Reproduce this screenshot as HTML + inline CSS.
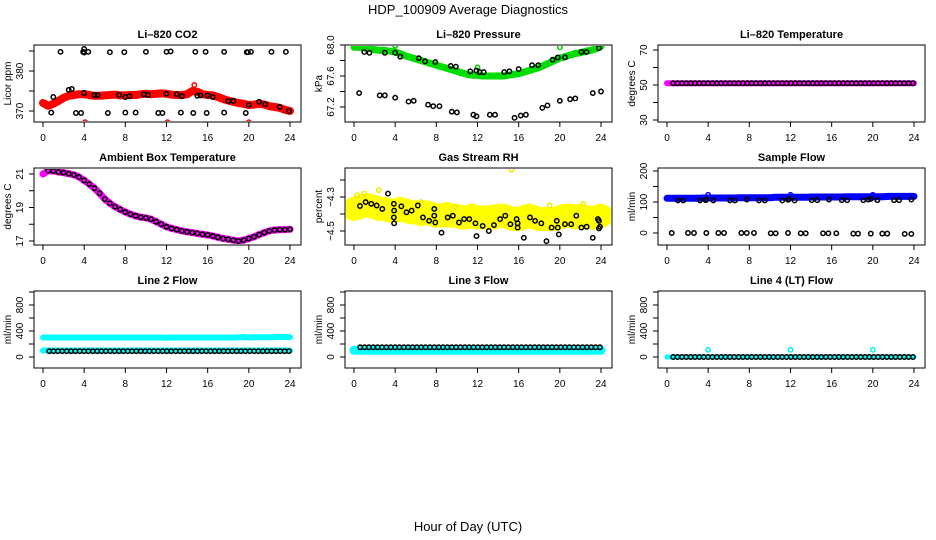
<!DOCTYPE html>
<html><head><meta charset="utf-8"><style>
html,body{margin:0;padding:0;background:#fff}
svg{display:block;font-family:"Liberation Sans",sans-serif}
</style></head><body>
<svg id="chart" width="936" height="540" viewBox="0 0 936 540" xmlns="http://www.w3.org/2000/svg">
<text x="468" y="14" font-size="13" text-anchor="middle">HDP_100909  Average Diagnostics</text>
<text x="468" y="531" font-size="13" text-anchor="middle">Hour of Day (UTC)</text>
</svg>
<script>
const xTicks = [0,4,8,12,16,20,24];
const halfHours = [0,0.5,1,1.5,2,2.5,3,3.5,4,4.5,5,5.5,6,6.5,7,7.5,8,8.5,9,9.5,10,10.5,11,11.5,12,12.5,13,13.5,14,14.5,15,15.5,16,16.5,17,17.5,18,18.5,19,19.5,20,20.5,21,21.5,22,22.5,23,23.5,24];
// CO2
const co2Band = [372,371.3,371.8,372.5,373.3,373.8,374,374.2,374.2,374,373.8,373.8,373.9,374,374.1,373.9,373.9,374,374,374.2,374.3,374.2,374.3,374.4,374.3,374.1,374,374,374.2,375,374.8,374.2,374,373.9,373.5,373,372.6,372.3,372,371.8,371.5,371.6,371.8,371.6,371.2,371,370.8,370.3,370];
const co2BlackT = [1.7,3.9,4.0,4.0,4.4,6.5,7.9,10.0,12.0,12.4,14.8,15.8,17.6,19.8,19.9,20.2,22.2,23.6,1.0,2.5,2.8,4.0,5.0,5.3,7.4,8.0,8.4,9.8,10.2,12.0,13.0,13.5,15.0,15.3,16.0,16.5,18.0,18.5,20.0,21.0,21.6,23.0,23.9,0.8,3.2,3.7,6.3,8.0,9.0,11.2,11.6,13.4,14.6,15.9,17.6,19.7];
const co2BlackV = [384.8,384.8,385.5,384.6,384.8,384.7,384.7,384.8,384.8,384.9,384.8,384.8,384.8,384.7,384.7,384.8,384.8,384.8,373.5,375.3,375.5,374.5,374,374,374,373.5,373.7,374.2,374,374.3,374.2,373.7,373.8,373.9,373.9,373.5,372.5,372.5,371.5,372.3,371.7,371,370,369.6,369.5,369.5,369.5,369.6,369.6,369.5,369.5,369.6,369.5,369.5,369.6,369.5];
const co2RedT = [4.1,12.1,20.0,14.7];
const co2RedV = [367.2,367.2,367.2,376.5];
// Pressure
const presBand = [67.97,67.97,67.96,67.95,67.94,67.93,67.93,67.92,67.91,67.89,67.86,67.84,67.82,67.80,67.78,67.76,67.74,67.72,67.70,67.68,67.66,67.64,67.62,67.61,67.61,67.60,67.60,67.60,67.60,67.60,67.61,67.62,67.63,67.65,67.67,67.69,67.71,67.74,67.77,67.80,67.83,67.85,67.87,67.89,67.90,67.92,67.93,67.95,67.98];
const presBlackT = [1.0,1.5,3,4,4.5,6.3,6.9,7.9,9.4,9.9,11.3,11.9,12.2,12.6,14.6,15.1,16,17.3,17.9,19.3,19.8,20.5,22.1,22.6,23.8,0.5,2.5,3,4,5.3,5.8,7.2,7.7,8.3,9.5,10,11.6,11.9,13.2,13.7,15.6,16.2,16.7,18.3,18.8,20,21,21.5,23.2,24];
const presBlackV = [67.91,67.90,67.90,67.90,67.85,67.83,67.79,67.78,67.73,67.72,67.66,67.67,67.65,67.65,67.65,67.66,67.69,67.74,67.74,67.81,67.84,67.84,67.91,67.91,67.96,67.38,67.35,67.35,67.32,67.27,67.28,67.23,67.21,67.21,67.14,67.13,67.1,67.08,67.1,67.1,67.06,67.09,67.1,67.19,67.22,67.28,67.3,67.31,67.38,67.4];
const presGreenT = [4.0,12.0,20.0];
const presGreenV = [67.99,67.71,67.97];
// Li-820 temperature
const tempBand = [51,51,51,51,51,51,51,51,51,51,51,51,51,51,51,51,51,51,51,51,51,51,51,51,51,51,51,51,51,51,51,51,51,51,51,51,51,51,51,51,51,51,51,51,51,51,51,51,51];
const tempBlack = [51,51,51,51,51,51,51,51,51,51,51,51,51,51,51,51,51,51,51,51,51,51,51,51,51,51,51,51,51,51,51,51,51,51,51,51,51,51,51,51,51,51,51,51,51,51,51,51,51,51,51,51,51,51,51,51];
// Ambient box temperature
const ambBand = [21.0,21.2,21.18,21.12,21.08,21.02,20.95,20.82,20.62,20.4,20.15,19.85,19.5,19.25,19.05,18.88,18.73,18.6,18.5,18.42,18.38,18.3,18.15,18.0,17.85,17.75,17.68,17.6,17.55,17.5,17.45,17.4,17.36,17.3,17.22,17.15,17.1,17.05,17.0,17.05,17.15,17.25,17.38,17.5,17.6,17.65,17.68,17.68,17.7];
// Gas stream RH
const rhBand = [-4.37,-4.36,-4.35,-4.35,-4.36,-4.37,-4.37,-4.38,-4.38,-4.37,-4.38,-4.39,-4.39,-4.40,-4.39,-4.40,-4.41,-4.41,-4.40,-4.41,-4.41,-4.42,-4.42,-4.41,-4.42,-4.42,-4.42,-4.42,-4.41,-4.41,-4.42,-4.43,-4.43,-4.42,-4.41,-4.42,-4.43,-4.43,-4.43,-4.43,-4.42,-4.41,-4.41,-4.42,-4.41,-4.42,-4.42,-4.42,-4.41];
const rhYellowT = [15.3,2.4,0.3,1.0,6.5,19.0,22.3,9.8];
const rhYellowV = [-4.14,-4.26,-4.29,-4.28,-4.33,-4.35,-4.34,-4.36];
const rhBlackT = [0.58,1.13,1.68,2.2,2.75,3.3,3.87,3.87,3.9,3.9,4.6,5.1,5.6,6.2,6.7,7.3,7.8,7.8,7.9,8.5,9.1,9.6,10.2,10.7,11.2,11.8,11.9,12.5,13.1,13.6,14.2,14.7,15.2,15.8,15.9,15.9,16.5,17.1,17.6,18.2,18.7,19.2,19.7,19.8,19.9,20.5,21.1,21.6,22.1,22.6,23.2,23.7,23.8,23.8,23.9];
const rhBlackV = [-4.353,-4.33,-4.34,-4.35,-4.37,-4.28,-4.34,-4.42,-4.455,-4.38,-4.355,-4.39,-4.38,-4.35,-4.42,-4.44,-4.37,-4.41,-4.45,-4.51,-4.42,-4.41,-4.45,-4.43,-4.43,-4.455,-4.53,-4.47,-4.50,-4.465,-4.43,-4.41,-4.46,-4.43,-4.455,-4.48,-4.54,-4.42,-4.44,-4.455,-4.56,-4.48,-4.44,-4.48,-4.52,-4.46,-4.46,-4.41,-4.48,-4.475,-4.54,-4.43,-4.44,-4.485,-4.475];
// Sample flow
const sfBand = [112,112,112,112,112,112,112,113,113,113,113,113,113,113,114,114,114,114,114,114,114,115,115,115,115,115,115,115,116,116,116,116,116,116,116,117,117,117,117,117,117,117,117,118,118,118,118,118,118];
const sfBlueT = [4.0,12.0,20.0];
const sfBlueV = [123,123,123];
const sfBlackT = [1.07,1.58,3.2,3.76,3.82,4.5,6.12,6.6,7.75,8.94,9.5,11.2,11.76,11.86,12.4,14.06,14.6,15.74,16.98,17.5,19.08,19.56,19.8,20.44,22.06,22.55,23.74,0.46,2.04,2.62,3.82,4.99,5.54,7.22,7.75,8.45,10.08,10.56,11.76,12.99,13.48,15.16,15.68,16.45,18.1,18.56,19.8,20.92,21.4,23.1,23.74];
const sfBlackV = [105,105,105,106,108,105,105,105,108,105,105,105,107,109,105,106,106,108,106,106,106,108,110,106,106,106,108,0,0,0,0,0,0,0,0,0,-1,-1,0,-1,-1,-1,-1,-1,-2,-2,-2,-2,-2,-3,-3];
// Line flows
const l2BandHigh = [300,300,300,300,300,300,300,300,300,300,300,300,300,300,300,300,300,300,300,300,300,300,300,300,295,300,300,300,300,300,300,300,300,300,300,300,300,300,305,308,300,305,305,305,305,305,308,308,305];
const l2BandLow = [100,100,100,100,100,100,100,100,100,100,100,100,100,100,100,100,100,100,100,100,100,100,100,100,100,100,100,100,100,100,100,100,100,100,100,100,100,100,100,100,100,100,100,100,100,100,100,100,100];
const l2Black = [90,90,90,90,90,90,90,90,90,90,90,90,90,90,90,90,90,90,90,90,90,90,90,90,90,90,90,90,90,90,90,90,90,90,90,90,90,90,90,90,90,90,90,90,90,90,90,90,90,90,90,90,90,90,90,90];
const l3Band = [105,105,105,105,105,105,105,105,105,105,105,105,105,105,105,105,105,105,105,105,105,105,105,105,105,105,105,105,105,105,105,105,105,105,105,105,105,105,105,105,105,105,105,105,105,105,105,105,105];
const l3Black = [150,150,150,150,150,150,150,150,150,150,150,150,150,150,150,150,150,150,150,150,150,150,150,150,150,150,150,150,150,150,150,150,150,150,150,150,150,150,150,150,150,150,150,150,150,150,150,150,150,150,150,150,150,150,150,150];
const l4Band = [0,0,0,0,0,0,0,0,0,0,0,0,0,0,0,0,0,0,0,0,0,0,0,0,0,0,0,0,0,0,0,0,0,0,0,0,0,0,0,0,0,0,0,0,0,0,0,0,0];
const l4Black = [0,0,0,0,0,0,0,0,0,0,0,0,0,0,0,0,0,0,0,0,0,0,0,0,0,0,0,0,0,0,0,0,0,0,0,0,0,0,0,0,0,0,0,0,0,0,0,0,0,0,0,0,0,0,0,0];
const l4CyanT = [4.0,12.0,20.0];
const l4CyanV = [110,110,110];

const NS = "http://www.w3.org/2000/svg";
const svg = document.getElementById('chart');
function mk(tag, attrs, parent){
  const e = document.createElementNS(NS, tag);
  for (const k in attrs) e.setAttribute(k, attrs[k]);
  (parent||svg).appendChild(e);
  return e;
}
const colLeft = [34,345,658], rowTop = [45,168,291], W = 267, H = 77;

function panel(o){
  const L = colLeft[o.col], T = rowTop[o.row], B = T + H;
  const g = mk('g', {});
  
  
  const xs = h => L + 9 + h * 247 / 24;
  const ys = v => o.p0 + (v - o.v0) * (o.p1 - o.p0) / (o.v1 - o.v0);
  const box = mk('rect', {x:L, y:T, width:W, height:H, fill:'none', stroke:'#000', 'stroke-width':1}, g);
  
  
  const t = mk('text', {x:L + W/2, y:T - 7, 'font-size':11, 'font-weight':'bold', 'text-anchor':'middle'}, g);
  t.textContent = o.title;
  
  
  const yl = mk('text', {transform:`translate(${L-23},${T+H/2}) rotate(-90)`, 'font-size':10, 'text-anchor':'middle'}, g);
  yl.textContent = o.ylab;
  
  
  o.yticks.forEach((v, i) => {
    const y = ys(v);
    mk('line', {x1:L-5, x2:L, y1:y, y2:y, stroke:'#000'}, g);
    if (o.ylabels[i] !== '') {
      const tl = mk('text', {transform:`translate(${L-11},${y}) rotate(-90)`, 'font-size':10, 'text-anchor':'middle'}, g);
      tl.textContent = o.ylabels[i];
      
      
    }
  });
  xTicks.forEach(h => {
    const x = xs(h);
    mk('line', {x1:x, x2:x, y1:B, y2:B+5, stroke:'#000'}, g);
    const tl = mk('text', {x:x, y:B+19, 'font-size':10, 'text-anchor':'middle'}, g);
    tl.textContent = h;
    
    
  });
  const clipId = 'c' + o.name;
  const cp = mk('clipPath', {id:clipId}, g);
  mk('rect', {x:L+1, y:T+1, width:W-2, height:H-2}, cp);
  const pg = mk('g', {'clip-path':`url(#${clipId})`}, g);
  return {xs, ys, g:pg};
}
function band(p, vals, color, width, name){
  const pts = vals.map((v, i) => p.xs(halfHours[i]).toFixed(1) + ',' + p.ys(v).toFixed(1)).join(' ');
  const pl = mk('polyline', {points:pts, fill:'none', stroke:color, 'stroke-width':width, 'stroke-linejoin':'round', 'stroke-linecap':'round'}, p.g);
  
  
}
function pts(p, T, V, color, name){
  T.forEach((h, i) => {
    const c = mk('circle', {cx:p.xs(h), cy:p.ys(V[i]), r:2.2, fill:'none', stroke:color, 'stroke-width':1.5}, p.g);
    
    
  });
}
function evenTimes(n){ const a=[]; for(let i=0;i<n;i++) a.push(0.6 + i*23.3/(n-1)); return a; }

let p;
p = panel({name:'co2', col:0, row:0, title:'Li\u2013820 CO2', ylab:'Licor ppm', v0:370, p0:111, v1:380, p1:71, yticks:[370,375,380,385], ylabels:['370','','380','']});
band(p, co2Band, '#ff0000', 8, 'co2-red-series');
pts(p, co2RedT, co2RedV, '#ff0000', 'co2-red-point');
pts(p, co2BlackT, co2BlackV, '#000', 'co2-black-point');

p = panel({name:'pressure', col:1, row:0, title:'Li\u2013820 Pressure', ylab:'kPa', v0:68.0, p0:45, v1:67.2, p1:107, yticks:[67.2,67.4,67.6,67.8,68.0], ylabels:['67.2','','67.6','','68.0']});
band(p, presBand, '#00dd00', 7, 'pressure-green-series');
pts(p, presGreenT, presGreenV, '#00cc00', 'pressure-green-point');
pts(p, presBlackT, presBlackV, '#000', 'pressure-black-point');

p = panel({name:'li820-temp', col:2, row:0, title:'Li\u2013820 Temperature', ylab:'degrees C', v0:70, p0:50, v1:30, p1:120, yticks:[30,40,50,60,70], ylabels:['30','','50','','70']});
band(p, tempBand, '#ff00ff', 6, 'li820-temp-magenta-series');
pts(p, evenTimes(tempBlack.length), tempBlack, '#000', 'li820-temp-black-point');

p = panel({name:'ambient', col:0, row:1, title:'Ambient Box Temperature', ylab:'degrees C', v0:21, p0:174, v1:17, p1:241, yticks:[17,18,19,20,21], ylabels:['17','','19','','21']});
band(p, ambBand, '#ff00ff', 7, 'ambient-magenta-series');
pts(p, halfHours.slice(1), ambBand.slice(1), '#000', 'ambient-black-point');

p = panel({name:'rh', col:1, row:1, title:'Gas Stream RH', ylab:'percent', v0:-4.3, p0:197, v1:-4.5, p1:231, yticks:[-4.5,-4.4,-4.3,-4.2], ylabels:['\u22124.5','','\u22124.3','']});
band(p, rhBand, '#ffff00', 24, 'rh-yellow-series');
pts(p, rhYellowT, rhYellowV, '#eeee00', 'rh-yellow-point');
pts(p, rhBlackT, rhBlackV, '#000', 'rh-black-point');

p = panel({name:'sample-flow', col:2, row:1, title:'Sample Flow', ylab:'ml/min', v0:0, p0:233, v1:200, p1:171, yticks:[0,50,100,150,200], ylabels:['0','','100','','200']});
band(p, sfBand, '#0000ff', 7, 'sample-flow-blue-series');
pts(p, sfBlueT, sfBlueV, '#0000ff', 'sample-flow-blue-point');
pts(p, sfBlackT, sfBlackV, '#000', 'sample-flow-black-point');

const flowTicks = [0,200,400,600,800,1000], flowLabels = ['0','','400','','800',''];
p = panel({name:'line2', col:0, row:2, title:'Line 2 Flow', ylab:'ml/min', v0:0, p0:357, v1:400, p1:331, yticks:flowTicks, ylabels:flowLabels});
band(p, l2BandHigh, '#00ffff', 6, 'line2-cyan-high-series');
band(p, l2BandLow, '#00ffff', 6, 'line2-cyan-low-series');
pts(p, evenTimes(l2Black.length), l2Black, '#000', 'line2-black-point');

p = panel({name:'line3', col:1, row:2, title:'Line 3 Flow', ylab:'ml/min', v0:0, p0:357, v1:400, p1:331, yticks:flowTicks, ylabels:flowLabels});
band(p, l3Band, '#00ffff', 9, 'line3-cyan-series');
pts(p, evenTimes(l3Black.length), l3Black, '#000', 'line3-black-point');

p = panel({name:'line4', col:2, row:2, title:'Line 4 (LT) Flow', ylab:'ml/min', v0:0, p0:357, v1:400, p1:331, yticks:flowTicks, ylabels:flowLabels});
band(p, l4Band, '#00ffff', 5, 'line4-cyan-series');
pts(p, l4CyanT, l4CyanV, '#00eeee', 'line4-cyan-point');
pts(p, evenTimes(l4Black.length), l4Black, '#000', 'line4-black-point');
</script>
</body></html>
